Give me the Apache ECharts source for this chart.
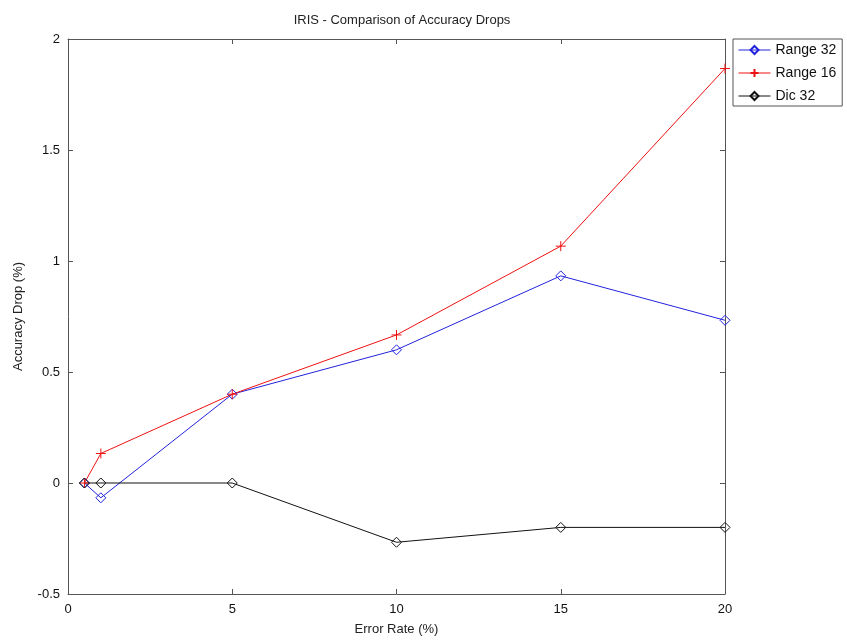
<!DOCTYPE html>
<html style="height: 100%">
<head>
    <meta charset="utf-8">
    <script src="https://cdn.jsdelivr.net/npm/echarts@6/dist/echarts.min.js"></script>
</head>
<body style="height: 100%; margin: 0; background: #fff">
<div id="container" style="width: 847px; height: 641px"></div>
<script type="text/javascript">
    // error rates (%) and accuracy drops (%)
    var errorRates = [0.5, 1, 5, 10, 15, 20];
    var range32 = [0, -0.0667, 0.4, 0.6, 0.933, 0.733];
    var range16 = [0, 0.133, 0.4, 0.667, 1.067, 1.867];
    var dic32 = [0, 0, 0, -0.267, -0.2, -0.2];
    var seriesNames = ['Range 32', 'Range 16', 'Dic 32'];

    function pairs(ys) {
        return errorRates.map(function (x, i) { return [x, ys[i]]; });
    }

    var font = 'Liberation Sans, Arial, sans-serif';
    var axisColor = '#555';
    var plusPath = 'path://M0,5L10,5M5,0L5,10';

    var dom = document.getElementById("container");
    var myChart = echarts.init(dom);

    function mkSeries(name, ys, color, symbol) {
        return {
            name: name,
            type: 'line',
            data: pairs(ys),
            symbol: symbol,
            symbolSize: 10,
            showSymbol: true,
            lineStyle: {color: color, width: 1},
            itemStyle: {color: 'none', borderColor: color, borderWidth: 1},
            emphasis: {disabled: true},
            animation: false
        };
    }

    function boxAxis(extra) {
        var a = {
            type: 'value',
            axisLine: {show: true, onZero: false, lineStyle: {color: axisColor}},
            axisTick: {show: true, inside: true, length: 5, lineStyle: {color: axisColor}},
            splitLine: {show: false}
        };
        for (var k in extra) a[k] = extra[k];
        return a;
    }

    var option = {
        textStyle: {fontFamily: font},
        title: {
            text: 'IRIS - Comparison of Accuracy Drops',
            left: 397,
            top: 9,
            textAlign: 'center',
            textStyle: {fontSize: 13, fontWeight: 'normal', color: '#222', fontFamily: font}
        },
        legend: {
            data: seriesNames,
            orient: 'vertical',
            left: 733,
            top: 39,
            itemWidth: 32,
            itemHeight: 10,
            itemGap: 9,
            padding: [4, 6, 3, 5],
            borderColor: axisColor,
            borderWidth: 1,
            lineStyle: {width: 1},
            textStyle: {fontSize: 14, color: '#111', fontFamily: font}
        },
        grid: {
            left: 68,
            top: 39,
            right: 122,
            bottom: 47,
            containLabel: false
        },
        xAxis: [boxAxis({
            min: 0,
            max: 20,
            interval: 5,
            name: 'Error Rate (%)',
            nameLocation: 'middle',
            nameGap: 29,
            nameTextStyle: {fontSize: 13, color: '#222', fontFamily: font},
            axisLabel: {fontSize: 13, color: '#111', margin: 9}
        }), boxAxis({
            position: 'top',
            min: 0,
            max: 20,
            interval: 5,
            axisLabel: {show: false}
        })],
        yAxis: [boxAxis({
            min: -0.5,
            max: 2,
            interval: 0.5,
            name: 'Accuracy Drop (%)',
            nameLocation: 'middle',
            nameGap: 43,
            nameTextStyle: {fontSize: 13, color: '#222', fontFamily: font},
            axisLabel: {fontSize: 13, color: '#111', margin: 8}
        }), boxAxis({
            position: 'right',
            min: -0.5,
            max: 2,
            interval: 0.5,
            axisLabel: {show: false}
        })],
        series: [
            mkSeries(seriesNames[0], range32, '#2222dd', 'diamond'),
            mkSeries(seriesNames[1], range16, '#ee1111', plusPath),
            mkSeries(seriesNames[2], dic32, '#111111', 'diamond')
        ]
    };

    if (option && typeof option === "object") {
        myChart.setOption(option, true);
    }
</script>
</body>
</html>
